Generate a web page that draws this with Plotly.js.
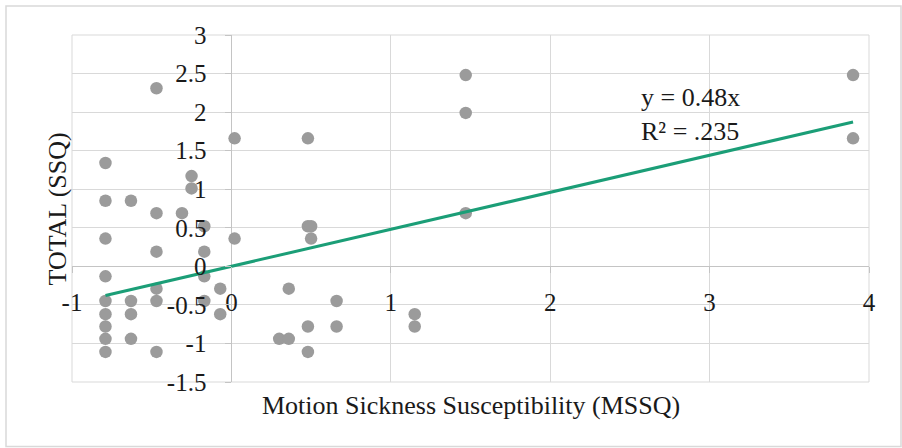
<!DOCTYPE html>
<html>
<head>
<meta charset="utf-8">
<script src="https://cdn.plot.ly/plotly-3.0.1.min.js"></script>
<style>
  html, body { margin: 0; padding: 0; background: #ffffff; }
  #chart { width: 902px; height: 448px; }
</style>
</head>
<body>
<div id="chart"></div>
<script>
// ---- data ----
const mssq = [
  -0.79, -0.79, -0.79, -0.79, -0.79, -0.79, -0.79, -0.79, -0.79,
  -0.63, -0.63, -0.63, -0.63,
  -0.47, -0.47, -0.47, -0.47, -0.47, -0.47,
  -0.31,
  -0.25, -0.25,
  -0.17, -0.17, -0.17, -0.17,
  -0.07, -0.07,
  0.02, 0.02,
  0.30,
  0.36, 0.36,
  0.48, 0.48, 0.48, 0.48,
  0.50, 0.50,
  0.66, 0.66,
  1.15, 1.15,
  1.47, 1.47, 1.47,
  3.90, 3.90
];
const ssqTotal = [
  1.34, 0.85, 0.36, -0.13, -0.45, -0.62, -0.78, -0.94, -1.11,
  0.85, -0.45, -0.62, -0.94,
  2.31, 0.69, 0.19, -0.29, -0.45, -1.11,
  0.69,
  1.17, 1.01,
  0.52, 0.19, -0.13, -0.45,
  -0.29, -0.62,
  1.66, 0.36,
  -0.94,
  -0.29, -0.94,
  1.66, 0.52, -0.78, -1.11,
  0.52, 0.36,
  -0.45, -0.78,
  -0.62, -0.78,
  2.48, 1.99, 0.69,
  2.48, 1.66
];
const trendSlope = 0.48;            // from the label "y = 0.48x"
const trendLabel = ['y = 0.48x', 'R² = .235'];
const xTickVals = [-1, 0, 1, 2, 3, 4];
const xTickText = ['-1', '0', '1', '2', '3', '4'];
const yTickVals = [-1.5, -1, -0.5, 0, 0.5, 1, 1.5, 2, 2.5, 3];
const yTickText = ['-1.5', '-1', '-0.5', '0', '0.5', '1', '1.5', '2', '2.5', '3'];
const xTitle = 'Motion Sickness Susceptibility (MSSQ)';
const yTitle = 'TOTAL (SSQ)';

// trend line endpoints span the data range
const xMin = Math.min(...mssq), xMax = Math.max(...mssq);
const trendX = [xMin, xMax];
const trendY = trendX.map(v => trendSlope * v);

const FONT = "'Liberation Serif', 'Times New Roman', serif";
const TXT = '#1a1a1a';

const xRange = [-1, 4], yRange = [-1.5, 3];

const traces = [
  {
    type: 'scatter', mode: 'markers',
    x: mssq, y: ssqTotal,
    marker: { size: 12.5, color: '#9b9b9b', line: { width: 0 } },
    hoverinfo: 'skip', showlegend: false
  },
  {
    type: 'scatter', mode: 'lines',
    x: trendX, y: trendY,
    line: { color: '#1b9e77', width: 3 },
    hoverinfo: 'skip', showlegend: false
  }
];

const layout = {
  width: 902, height: 448,
  margin: { l: 72, r: 33, t: 35, b: 66, pad: 0 },
  paper_bgcolor: '#ffffff', plot_bgcolor: '#ffffff',
  font: { family: FONT, size: 25, color: TXT },
  showlegend: false,
  xaxis: {
    range: xRange, tickmode: 'array', tickvals: xTickVals, ticktext: xTickText,
    anchor: 'free', position: (0 - yRange[0]) / (yRange[1] - yRange[0]),
    showgrid: true, gridcolor: '#d9d9d9', gridwidth: 1,
    zeroline: true, zerolinecolor: '#c4c4c4', zerolinewidth: 1.5,
    showline: false,
    ticks: 'outside', ticklen: 6, tickcolor: '#c4c4c4', tickwidth: 1,
    ticklabelstandoff: 8,
    tickfont: { family: FONT, size: 25, color: TXT },
    fixedrange: true
  },
  yaxis: {
    range: yRange, tickmode: 'array', tickvals: yTickVals, ticktext: yTickText,
    anchor: 'free', position: (0 - xRange[0]) / (xRange[1] - xRange[0]),
    showgrid: true, gridcolor: '#d9d9d9', gridwidth: 1,
    zeroline: true, zerolinecolor: '#c4c4c4', zerolinewidth: 1.5,
    showline: false,
    ticks: 'outside', ticklen: 6, tickcolor: '#c4c4c4', tickwidth: 1,
    ticklabelstandoff: 14,
    tickfont: { family: FONT, size: 25, color: TXT },
    fixedrange: true
  },
  shapes: [
    { type: 'rect', xref: 'paper', yref: 'paper', x0: 0, x1: 1, y0: 0, y1: 1,
      line: { color: '#d9d9d9', width: 1 }, layer: 'below' },
    { type: 'rect', xref: 'paper', yref: 'paper',
      x0: (6 - 72) / 797, x1: (901 - 72) / 797,
      y0: (382 - 446.5) / 347, y1: (382 - 6) / 347,
      line: { color: '#d9d9d9', width: 1.5 }, layer: 'below' }
  ],
  annotations: [
    { xref: 'x', yref: 'y', x: 2.56, y: 1.97, xanchor: 'left', yanchor: 'middle',
      align: 'left', showarrow: false, text: trendLabel.join('<br>'),
      font: { family: FONT, size: 26, color: TXT } },
    { xref: 'paper', yref: 'paper', x: 0.5, y: (382 - 405) / 347,
      xanchor: 'center', yanchor: 'middle', showarrow: false, text: xTitle,
      font: { family: FONT, size: 26, color: TXT } },
    { xref: 'paper', yref: 'paper', x: (57 - 72) / 797, y: (382 - 209.5) / 347,
      xanchor: 'center', yanchor: 'middle', textangle: -90, showarrow: false, text: yTitle,
      font: { family: FONT, size: 26, color: TXT } }
  ]
};

Plotly.newPlot('chart', traces, layout, { staticPlot: true, displayModeBar: false });
</script>
</body>
</html>
